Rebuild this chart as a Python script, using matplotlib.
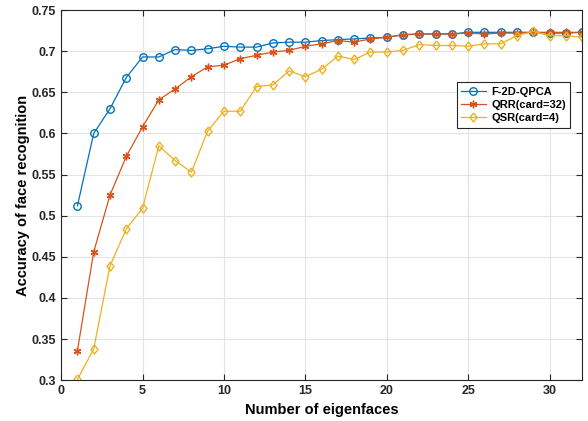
import matplotlib.pyplot as plt
import numpy as np

# DATA
n_eig = list(range(1, 33))
f2d_qpca = [0.512, 0.600, 0.630, 0.668, 0.693, 0.693, 0.702, 0.701, 0.703, 0.706,
            0.705, 0.705, 0.710, 0.711, 0.711, 0.713, 0.714, 0.715, 0.716, 0.717,
            0.720, 0.721, 0.721, 0.721, 0.723, 0.723, 0.723, 0.723, 0.723, 0.722,
            0.722, 0.723]
qrr = [0.336, 0.456, 0.525, 0.572, 0.608, 0.641, 0.654, 0.669, 0.681, 0.683,
       0.691, 0.695, 0.699, 0.701, 0.706, 0.709, 0.713, 0.711, 0.715, 0.717,
       0.720, 0.721, 0.721, 0.721, 0.722, 0.721, 0.722, 0.722, 0.723, 0.723,
       0.723, 0.723]
qsr = [0.301, 0.338, 0.439, 0.484, 0.509, 0.585, 0.567, 0.553, 0.603, 0.627,
       0.627, 0.657, 0.659, 0.676, 0.669, 0.678, 0.694, 0.690, 0.699, 0.699,
       0.701, 0.708, 0.707, 0.707, 0.706, 0.709, 0.709, 0.719, 0.724, 0.719,
       0.719, 0.717]
labels = ['F-2D-QPCA', 'QRR(card=32)', 'QSR(card=4)']

plt.rcParams['font.family'] = ['Liberation Sans', 'DejaVu Sans']
plt.rcParams['font.weight'] = 'bold'

# matlab style diamond, a bit taller than wide
diamond = [(0, 1), (0.77, 0), (0, -1), (-0.77, 0), (0, 1)]

fig = plt.figure(figsize=(5.88, 4.21), dpi=100)
ax = fig.add_axes([0.104, 0.097, 0.886, 0.879])

ax.plot(n_eig, f2d_qpca, color='#0072BD', marker='o', ms=5.4, mfc='none', mew=1.0, lw=0.9, label=labels[0])
ax.plot(n_eig, qrr, color='#D95319', marker=(6, 2, 0), ms=5.5, mew=1.0, lw=0.9, label=labels[1])
ax.plot(n_eig, qsr, color='#EDB120', marker=diamond, ms=6.5, mfc='none', mew=1.0, lw=0.9, label=labels[2])

ax.set_xlim(0, 32)
ax.set_ylim(0.3, 0.75)
ax.set_xticks([0, 5, 10, 15, 20, 25, 30])
ax.set_yticks(np.arange(0.3, 0.751, 0.05))
ax.set_yticklabels(['0.3', '0.35', '0.4', '0.45', '0.5', '0.55', '0.6', '0.65', '0.7', '0.75'])
ax.grid(True, color='#e3e3e3', lw=0.8)
ax.set_axisbelow(True)
ax.tick_params(direction='in', length=4, labelsize=9, top=True, right=True, colors='#262626')
for s in ax.spines.values():
    s.set_color('#262626')
    s.set_linewidth(0.8)

ax.set_xlabel('Number of eigenfaces', fontsize=10.5, fontweight='bold')
ax.set_ylabel('Accuracy of face recognition', fontsize=10.5, fontweight='bold', labelpad=1.5)

leg = ax.legend(loc='upper right', bbox_to_anchor=(0.977, 0.805), borderaxespad=0, fontsize=8,
                fancybox=False, framealpha=1, edgecolor='#262626', handlelength=2.2,
                borderpad=0.4, labelspacing=0.3, handletextpad=0.5)
leg.get_frame().set_linewidth(0.8)

fig.savefig('out.png')
